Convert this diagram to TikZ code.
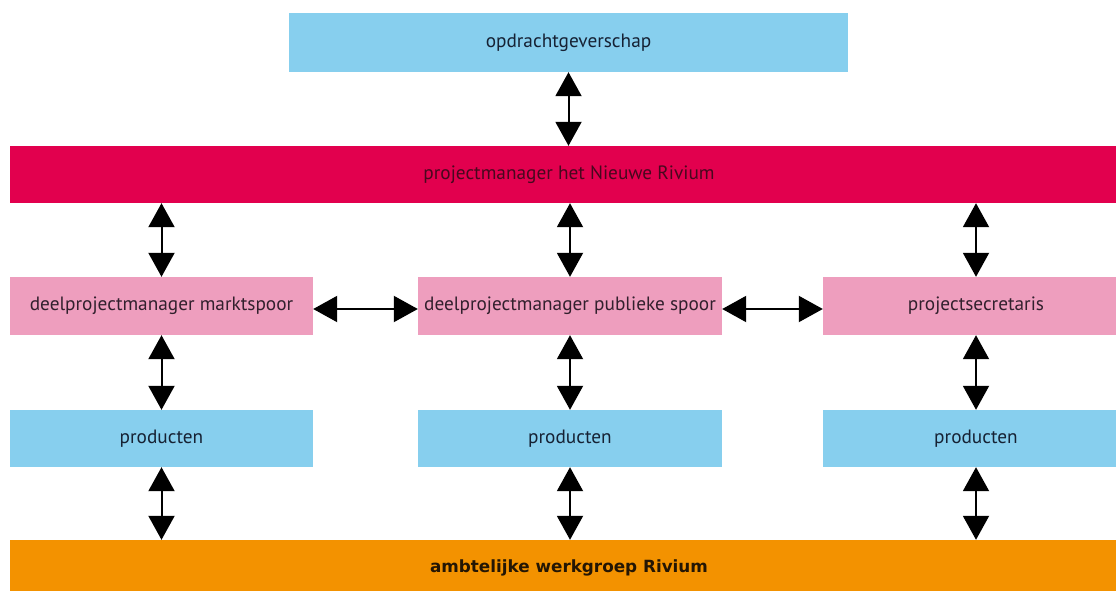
\documentclass[tikz,border=0pt]{standalone}
\usepackage{fontspec}
\setmainfont{PT Sans}
\newfontfamily\headfont{DejaVu Sans}
\usetikzlibrary{arrows.meta}

\definecolor{skyfill}{RGB}{135,207,238}
\definecolor{redfill}{RGB}{226,0,78}
\definecolor{pinkfill}{RGB}{238,158,190}
\definecolor{orangefill}{RGB}{243,146,0}
\definecolor{navytext}{RGB}{22,34,52}
\definecolor{maroontext}{RGB}{72,8,30}
\definecolor{plumtext}{RGB}{50,32,45}
\definecolor{browntext}{RGB}{36,22,4}

\tikzset{
  box/.style={rectangle, inner sep=0pt, font=\fontsize{19.3}{21}\selectfont},
  bluebox/.style={box, fill=skyfill, text=navytext},
  pinkbox/.style={box, fill=pinkfill, text=plumtext, minimum width=304pt, minimum height=58pt},
  prodbox/.style={bluebox, minimum width=304pt, minimum height=57pt},
  link/.style={line width=2pt, draw=black, {Triangle[width=26pt,length=24pt]}-{Triangle[width=26pt,length=24pt]}}
}

\begin{document}
\begin{tikzpicture}[x=1pt, y=-1pt]
  \useasboundingbox (0,0) rectangle (1116,591);

  % top layer
  \node[bluebox, minimum width=559pt, minimum height=59pt] (client) at (568.5,42.5) {opdrachtgeverschap};
  \node[box, fill=redfill, text=maroontext, minimum width=1118pt, minimum height=57pt] (pm) at (569,174.5) {projectmanager het Nieuwe Rivium};

  % sub-project managers
  \node[pinkbox, minimum width=303pt] (dpmL) at (161.5,306) {deelprojectmanager marktspoor};
  \node[pinkbox] (dpmM) at (570,306) {deelprojectmanager publieke spoor};
  \node[pinkbox, minimum width=306pt] (sec) at (976,306) {projectsecretaris};

  % products
  \node[prodbox, minimum width=303pt] (prodL) at (161.5,438.5) {producten};
  \node[prodbox] (prodM) at (570,438.5) {producten};
  \node[prodbox, minimum width=306pt] (prodR) at (976,438.5) {producten};

  % working group
  \node[box, fill=orangefill, text=browntext, minimum width=1118pt, minimum height=56pt,
        font=\headfont\fontsize{16.8}{19}\selectfont\bfseries] (wg) at (569,568) {ambtelijke werkgroep Rivium};

  % connections
  \draw[link] (client.south) -- (client.south |- pm.north);
  \draw[link] (dpmL.north |- pm.south) -- (dpmL.north);
  \draw[link] (dpmM.north |- pm.south) -- (dpmM.north);
  \draw[link] (sec.north |- pm.south) -- (sec.north);
  \draw[link] ([yshift=-3pt]dpmL.east) -- ([yshift=-3pt]dpmM.west);
  \draw[link] ([yshift=-3pt]dpmM.east) -- ([yshift=-3pt]sec.west);
  \draw[link] (dpmL.south) -- (prodL.north);
  \draw[link] (dpmM.south) -- (prodM.north);
  \draw[link] (sec.south) -- (prodR.north);
  \draw[link] (prodL.south) -- (prodL.south |- wg.north);
  \draw[link] (prodM.south) -- (prodM.south |- wg.north);
  \draw[link] (prodR.south) -- (prodR.south |- wg.north);
\end{tikzpicture}
\end{document}
